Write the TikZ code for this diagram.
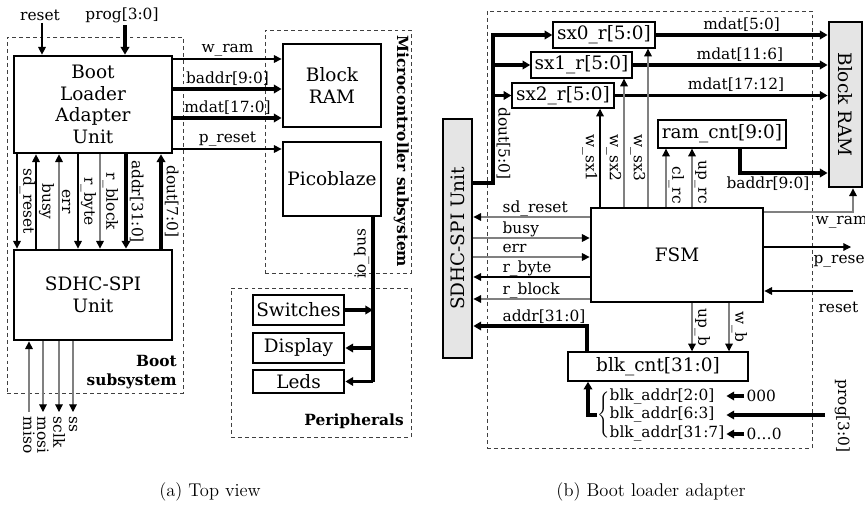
\documentclass[tikz,border=0pt]{standalone}
\usepackage{graphicx}
\usepackage{fontspec}
\newfontfamily\diagfont{DejaVu Serif}
\usetikzlibrary{positioning, arrows.meta, fit, calc}
\tikzset{
  unit/.style={draw, line width=1.8pt, inner sep=0pt, align=center, font=\diagfont\large},
  reg/.style={draw, line width=0.9pt, inner sep=0pt, font=\diagfont\large},
  grayfill/.style={fill=black!10},
  grp/.style={draw=black!75, line width=0.6pt, dash pattern=on 2.5pt off 2pt, inner sep=0pt},
  grpname/.style={font=\diagfont\bfseries, align=right, inner sep=0pt},
  sig/.style={-{Triangle[length=5pt,width=5pt,color=black]}, line width=0.7pt},
  gsig/.style={sig, draw=black!50},
  bus/.style={-{Triangle[length=5pt,width=5.5pt]}, line width=2pt},
  wire/.style={line width=2pt},
  lbl/.style={font=\diagfont, inner sep=1.5pt},
  vlbl/.style={lbl, rotate=-90},
  captxt/.style={font=\large}
}
\begin{document}
\begin{tikzpicture}[x=0.65pt, y=-0.65pt]
  \useasboundingbox (0,0) rectangle (865,509);

  % (a) top view
  \node[grp, fit={(7,37) (183,393)}] (bootgrp) {};
  \node[grpname, anchor=south east] (bootname) at (177,389) {Boot\\subsystem};
  \node[unit, minimum width=102.7pt, minimum height=63pt] (bla) at (93,104.5) {Boot\\Loader\\Adapter\\Unit};
  \node[unit, minimum width=102.7pt, minimum height=58.5pt] (sdl) at (93,295) {SDHC-SPI\\Unit};
  \node[grp, fit={(265,30) (411,273)}] (mcgrp) {};
  \node[grpname, rotate=-90, anchor=north west] (mcname) at (409,35) {Microcontroller subsystem};
  \node[unit, minimum width=63.7pt, minimum height=54pt] (bram) at (332,85.5) {Block\\RAM};
  \node[unit, minimum width=63.7pt, minimum height=48.1pt] (pico) at (332,179) {Picoblaze};
  \node[grp, fit={(231,288) (411,437)}] (pergrp) {};
  \node[grpname, anchor=base east] (pername) at (404,425) {Peripherals};
  \node[unit, minimum width=59.2pt, minimum height=19.5pt] (sw) at (298.5,310) {Switches};
  \node[unit, minimum width=59.2pt, minimum height=19.5pt] (disp) at (298.5,348) {Display};
  \node[unit, minimum width=59.2pt, minimum height=15pt] (leds) at (298.5,381.5) {Leds};

  \node[lbl] (rstname) at (40,15) {reset};
  \node[lbl] (progname) at (122,15) {prog[3:0]};
  \draw[sig] (rstname.south -| 42,0) -- (bla.north -| 42,0);
  \draw[bus] (progname.south -| 125,0) -- (bla.north -| 125,0);

  \foreach \x/\s/\t in {17/sig/sd\_reset, 78/sig/r\_byte, 100/gsig/r\_block, 126/bus/addr[31:0]}
    \draw[\s] (bla.south -| \x,0) -- node[vlbl, anchor=south] {\t} (sdl.north -| \x,0);
  \foreach \x/\s/\t in {36/sig/busy, 59/gsig/err, 161/bus/dout[7:0]}
    \draw[\s] (sdl.north -| \x,0) -- node[vlbl, anchor=south] {\t} (bla.south -| \x,0);

  \coordinate (misoend) at (29,412);
  \draw[gsig] (misoend) -- (sdl.south -| misoend);
  \node[vlbl, anchor=west] (misoname) at (29,414) {miso};
  \foreach \x/\t in {43/mosi, 59/sclk, 73/ss}{
    \coordinate (\t end) at (\x,412);
    \draw[gsig] (sdl.south -| \t end) -- (\t end);
    \node[vlbl, anchor=west] (\t name) at (\x,414) {\t};
  }

  \draw[sig] (bla.east |- 0,59) -- node[lbl, above] {w\_ram} (bram.west |- 0,59);
  \draw[bus] (bla.east |- 0,89) -- node[lbl, above] {baddr[9:0]} (bram.west |- 0,89);
  \draw[bus] (bla.east |- 0,118) -- node[lbl, above] {mdat[17:0]} (bram.west |- 0,118);
  \draw[sig] (bla.east |- 0,149) -- node[lbl, above] {p\_reset} (pico.west |- 0,149);

  \coordinate (busend) at (373,382);
  \draw[wire] (pico.south -| busend) -- node[lbl, rotate=90, anchor=south, pos=0.22] {io\_bus} (busend);
  \draw[bus] (sw.east) -- (sw.east -| busend);
  \draw[bus] (disp.east -| busend) -- (disp.east);
  \draw[bus] (leds.east -| busend) -- (leds.east);

  \node[captxt] (capa) at (210,492) {(a) Top view};

  % (b) boot loader adapter
  \node[grp, fit={(487,11) (812,448)}] (blagrp) {};
  \node[unit, grayfill, minimum width=18.9pt, minimum height=155.4pt] (sdr) at (457.5,238.5) {\rotatebox{90}{SDHC-SPI Unit}};
  \node[unit, grayfill, minimum width=21.5pt, minimum height=107.3pt] (bramr) at (845.5,104.5) {\rotatebox{-90}{Block RAM}};
  \node[reg, minimum width=66.3pt, minimum height=16.9pt] (sx0) at (604,35) {sx0\_r[5:0]};
  \node[reg, minimum width=65.7pt, minimum height=16.9pt] (sx1) at (581.5,65) {sx1\_r[5:0]};
  \node[reg, minimum width=66.3pt, minimum height=16.3pt] (sx2) at (563,95.5) {sx2\_r[5:0]};
  \node[reg, minimum width=83.2pt, minimum height=18.2pt] (rc) at (722,134) {ram\_cnt[9:0]};
  \node[unit, minimum width=111.8pt, minimum height=61.1pt] (fsm) at (677,255) {FSM};
  \node[reg, minimum width=117pt, minimum height=18.9pt] (bc) at (658,366.5) {blk\_cnt[31:0]};

  \coordinate (dtop) at (493,35);
  \draw[bus] (sdr.east |- 0,183) -| (dtop) -- (sx0.west);
  \draw[bus] (dtop |- sx1.west) -- (sx1.west);
  \draw[bus] (dtop |- sx2.west) -- (sx2.west);
  \node[vlbl, anchor=south east] (doutname) at (494,182) {dout[5:0]};

  \draw[bus] (sx0.east) -- node[lbl, above] {mdat[5:0]} (bramr.west |- sx0.east);
  \draw[bus] (sx1.east) -- node[lbl, above, pos=0.55] {mdat[11:6]} (bramr.west |- sx1.east);
  \draw[bus] (sx2.east) -- node[lbl, above, pos=0.57] {mdat[17:12]} (bramr.west |- sx2.east);

  \foreach \x/\s/\t/\r in {600/sig/w\_sx1/sx2, 624/gsig/w\_sx2/sx1, 648/gsig/w\_sx3/sx0}{
    \draw[\s] (fsm.north -| \x,0) -- (\r.south -| \x,0);
    \node[vlbl, anchor=north] (wname\r) at (\x,158) {\t};
  }

  \draw[gsig] (fsm.north -| 666,0) -- node[vlbl, anchor=south east, pos=0] {cl\_rc} (rc.south -| 666,0);
  \draw[gsig] (fsm.north -| 692,0) -- node[vlbl, anchor=south east, pos=0] {up\_rc} (rc.south -| 692,0);
  \draw[bus] (rc.south -| 740,0) |- node[lbl, below, pos=0.66] {baddr[9:0]} (bramr.west |- 0,173);

  \draw[gsig] (fsm.east |- 0,212) -| (bramr.south -| 853,0);
  \node[lbl, anchor=north west] (wramr) at (813,214) {w\_ram};
  \coordinate (presout) at (851,247);
  \draw[sig] (fsm.east |- presout) -- (presout);
  \node[lbl, anchor=north west] (presr) at (811,250) {p\_reset};
  \coordinate (rstin) at (853,291);
  \draw[sig] (rstin) -- (fsm.east |- rstin);
  \node[lbl, anchor=west] (rstr) at (816,307) {reset};

  \foreach \y/\s/\t in {217/gsig/sd\_reset, 277/sig/r\_byte, 299/gsig/r\_block}{
    \draw[\s] (fsm.west |- 0,\y) -- (sdr.east |- 0,\y);
    \node[lbl, anchor=base west] (sname\y) at (500,\y-5) {\t};
  }
  \foreach \y/\s/\t in {238/gsig/busy, 257/gsig/err}{
    \draw[\s] (sdr.east |- 0,\y) -- (fsm.west |- 0,\y);
    \node[lbl, anchor=base west] (sname\y) at (500,\y-5) {\t};
  }
  \draw[bus] (bc.north -| 587,0) |- (sdr.east |- 0,326);
  \node[lbl, anchor=base west] (addrname) at (500,321) {addr[31:0]};

  \draw[gsig] (fsm.south -| 692,0) -- node[vlbl, anchor=south] {up\_b} (bc.north -| 692,0);
  \draw[gsig] (fsm.south -| 729,0) -- node[vlbl, anchor=south] {w\_b} (bc.north -| 729,0);

  \node[lbl, anchor=west, inner sep=0pt] (bal) at (597,415)
    {\delimiterfactor=800 \delimitershortfall=14pt
     $\left\{\begin{tabular}{@{}l@{}}blk\_addr[2:0]\\ blk\_addr[6:3]\\ blk\_addr[31:7]\end{tabular}\right.$};
  \draw[bus] (bal.west) -| (bc.south -| 588,0);

  \node[lbl, anchor=west] (zlo) at (744,396) {000};
  \node[lbl, anchor=west] (zhi) at (744,434) {0\ldots0};
  \coordinate (progr) at (825,415);
  \draw[bus] (zlo.west) -- (bal.east |- zlo.west);
  \draw[bus] (progr) -- (bal.east |- progr);
  \draw[bus] (zhi.west) -- (bal.east |- zhi.west);
  \node[vlbl, anchor=south west] (progname2) at (832,377) {prog[3:0]};

  \node[captxt] (capb) at (651,492) {(b) Boot loader adapter};
\end{tikzpicture}
\end{document}
